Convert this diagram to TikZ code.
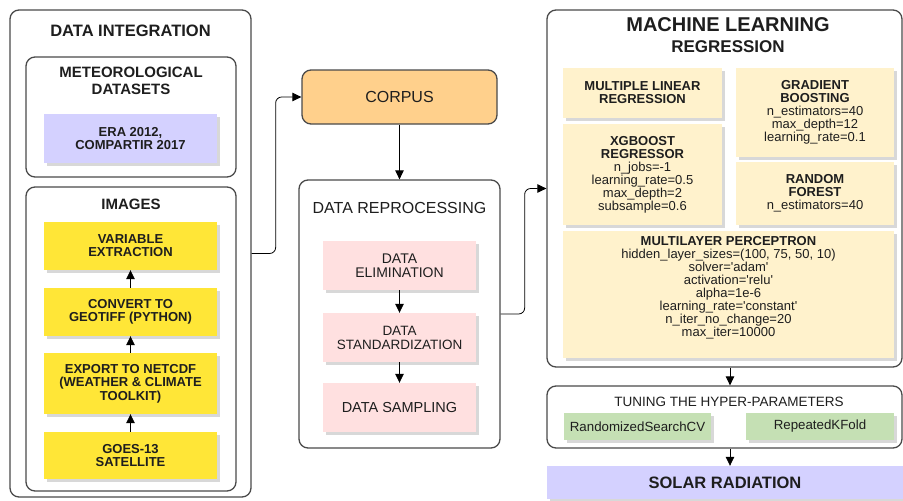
\documentclass[tikz,border=0pt]{standalone}
\usepackage{fontspec}
\setmainfont{Liberation Sans}
\usetikzlibrary{arrows.meta,shadows}
\definecolor{yel}{HTML}{FFE637}
\definecolor{lav}{HTML}{D4D1FF}
\definecolor{org}{HTML}{FFD08C}
\definecolor{pnk}{HTML}{FFE0E0}
\definecolor{crm}{HTML}{FFF2CC}
\definecolor{grn}{HTML}{C5E0B4}
\definecolor{txt}{HTML}{1E1E1E}
\definecolor{brd}{HTML}{4A4A4A}
\newcommand\fsz[2]{\fontsize{#1}{#2}\selectfont}
\newcommand\q{\textquotesingle}
\tikzset{
  cont/.style={draw=brd, line width=1.3pt, rounded corners=9pt, inner sep=0pt},
  ttl/.style={inner sep=0pt, align=center, text=txt},
  fbox/.style={inner sep=0pt, align=center, text=txt, font=\fsz{13}{13},
    drop shadow={shadow xshift=2.5pt, shadow yshift=-2.5pt, opacity=0.25, fill=black!60}},
  arr/.style={draw=black, line width=0.8pt, -{Triangle[length=9pt,width=8.5pt]}},
}
\begin{document}
\begin{tikzpicture}[x=1pt,y=-1pt]
\useasboundingbox (0,0) rectangle (903,501);
\fill[white] (0,0) rectangle (903,501);

% DATA INTEGRATION
\node[cont, minimum width=241pt, minimum height=487pt] (di) at (130.5,253.5) {};
\node[ttl, font=\bfseries\fsz{16.5}{18}] (ditl) at (130.5,31) {DATA INTEGRATION};
\node[cont, minimum width=210pt, minimum height=120pt] (met) at (131,117) {};
\node[ttl, font=\bfseries\fsz{15}{17}] (mettl) at (131,80.5) {METEOROLOGICAL\\DATASETS};
\node[fbox, fill=lav, minimum width=173pt, minimum height=49pt, font=\bfseries\fsz{13}{13}] (era) at (130.5,138.5) {ERA 2012,\\COMPARTIR 2017};
\node[cont, minimum width=210pt, minimum height=304pt] (img) at (131,339) {};
\node[ttl, font=\bfseries\fsz{15}{17}] (imgtl) at (131,204) {IMAGES};
\node[fbox, fill=yel, minimum width=173pt, minimum height=48pt, font=\bfseries\fsz{13}{13}] (var) at (130.5,246) {VARIABLE\\EXTRACTION};
\node[fbox, fill=yel, minimum width=173pt, minimum height=48pt, font=\bfseries\fsz{13}{13}] (conv) at (130.5,312) {CONVERT TO\\GEOTIFF (PYTHON)};
\node[fbox, fill=yel, minimum width=173pt, minimum height=61pt, font=\bfseries\fsz{13}{13.5}] (exp) at (130.5,383.5) {EXPORT TO NETCDF\\(WEATHER \& CLIMATE\\TOOLKIT)};
\node[fbox, fill=yel, minimum width=173pt, minimum height=47pt, font=\bfseries\fsz{13}{13}] (goes) at (130.5,455.5) {GOES-13\\SATELLITE};
\draw[arr] (goes.north) -- (exp.south);
\draw[arr] (exp.north) -- (conv.south);
\draw[arr] (conv.north) -- (var.south);

% CORPUS
\node[draw=brd, line width=1.3pt, rounded corners=9pt, fill=org, minimum width=195pt, minimum height=54pt, ttl, font=\fsz{16}{18}] (corpus) at (399.5,97) {CORPUS};

% DATA REPROCESSING
\node[cont, minimum width=201pt, minimum height=268pt] (dr) at (399.5,314) {};
\node[ttl, font=\fsz{16}{18}] (drtl) at (399.5,208) {DATA REPROCESSING};
\node[fbox, fill=pnk, minimum width=153pt, minimum height=49pt, font=\fsz{14}{14}] (elim) at (399.5,265.5) {DATA\\ELIMINATION};
\node[fbox, fill=pnk, minimum width=153pt, minimum height=49pt, font=\fsz{13.5}{14}] (stand) at (399.5,337.5) {DATA\\STANDARDIZATION};
\node[fbox, fill=pnk, minimum width=153pt, minimum height=49pt, font=\fsz{14.5}{14}] (samp) at (399.5,407.5) {DATA SAMPLING};
\draw[arr] (elim.south) -- (stand.north);
\draw[arr] (stand.south) -- (samp.north);

% MACHINE LEARNING
\node[cont, minimum width=355pt, minimum height=357pt] (ml) at (724.5,188.5) {};
\node[ttl, font=\bfseries\fsz{20}{22}] (mltl) at (728,25) {MACHINE LEARNING};
\node[ttl, font=\bfseries\fsz{17}{19}] (mltl2) at (728,47) {REGRESSION};
\node[fbox, fill=crm, minimum width=159pt, minimum height=50pt] (mlr) at (642.5,93) {\textbf{MULTIPLE LINEAR}\\\textbf{REGRESSION}};
\node[fbox, fill=crm, minimum width=159pt, minimum height=101pt] (xgb) at (642.5,174.5) {\textbf{XGBOOST}\\\textbf{REGRESSOR}\\n\_jobs=-1\\learning\_rate=0.5\\max\_depth=2\\subsample=0.6};
\node[fbox, fill=crm, minimum width=158pt, minimum height=89pt] (gb) at (815,112.5) {\textbf{GRADIENT}\\\textbf{BOOSTING}\\n\_estimators=40\\max\_depth=12\\learning\_rate=0.1};
\node[fbox, fill=crm, minimum width=158pt, minimum height=63pt] (rf) at (815,193.5) {\textbf{RANDOM}\\\textbf{FOREST}\\n\_estimators=40};
\node[fbox, fill=crm, minimum width=331pt, minimum height=127pt] (mlp) at (728.5,294.5) {\textbf{MULTILAYER PERCEPTRON}\\hidden\_layer\_sizes=(100, 75, 50, 10)\\solver=\q adam\q\\activation=\q relu\q\\alpha=1e-6\\learning\_rate=\q constant\q\\n\_iter\_no\_change=20\\max\_iter=10000\\[4pt]};

% TUNING
\node[cont, minimum width=355pt, minimum height=62pt] (tun) at (724.5,417) {};
\node[ttl, font=\fsz{13.5}{15}] (tuntl) at (729,402) {TUNING THE HYPER-PARAMETERS};
\node[fbox, fill=grn, minimum width=147pt, minimum height=27pt, font=\fsz{13.3}{14}] (rscv) at (637.5,426.5) {RandomizedSearchCV};
\node[fbox, fill=grn, minimum width=148pt, minimum height=27pt, font=\fsz{13.3}{14}] (rkf) at (820,426.5) {RepeatedKFold};

% SOLAR
\node[fbox, fill=lav, minimum width=356pt, minimum height=33pt, font=\bfseries\fsz{16.5}{18}] (sol) at (725,482.5) {SOLAR RADIATION};

% connectors
\draw[arr, rounded corners=6pt] (di.east) -- ++(24,0) |- (corpus.west);
\draw[arr] (corpus.south) -- (dr.north);
\draw[arr, rounded corners=6pt] (dr.east) -- ++(24,0) |- (ml.west);
\draw[arr] ([xshift=5.5pt]ml.south) -- ([xshift=5.5pt]tun.north);
\draw[arr] ([xshift=5.5pt]tun.south) -- ([xshift=5pt]sol.north);
\end{tikzpicture}
\end{document}
